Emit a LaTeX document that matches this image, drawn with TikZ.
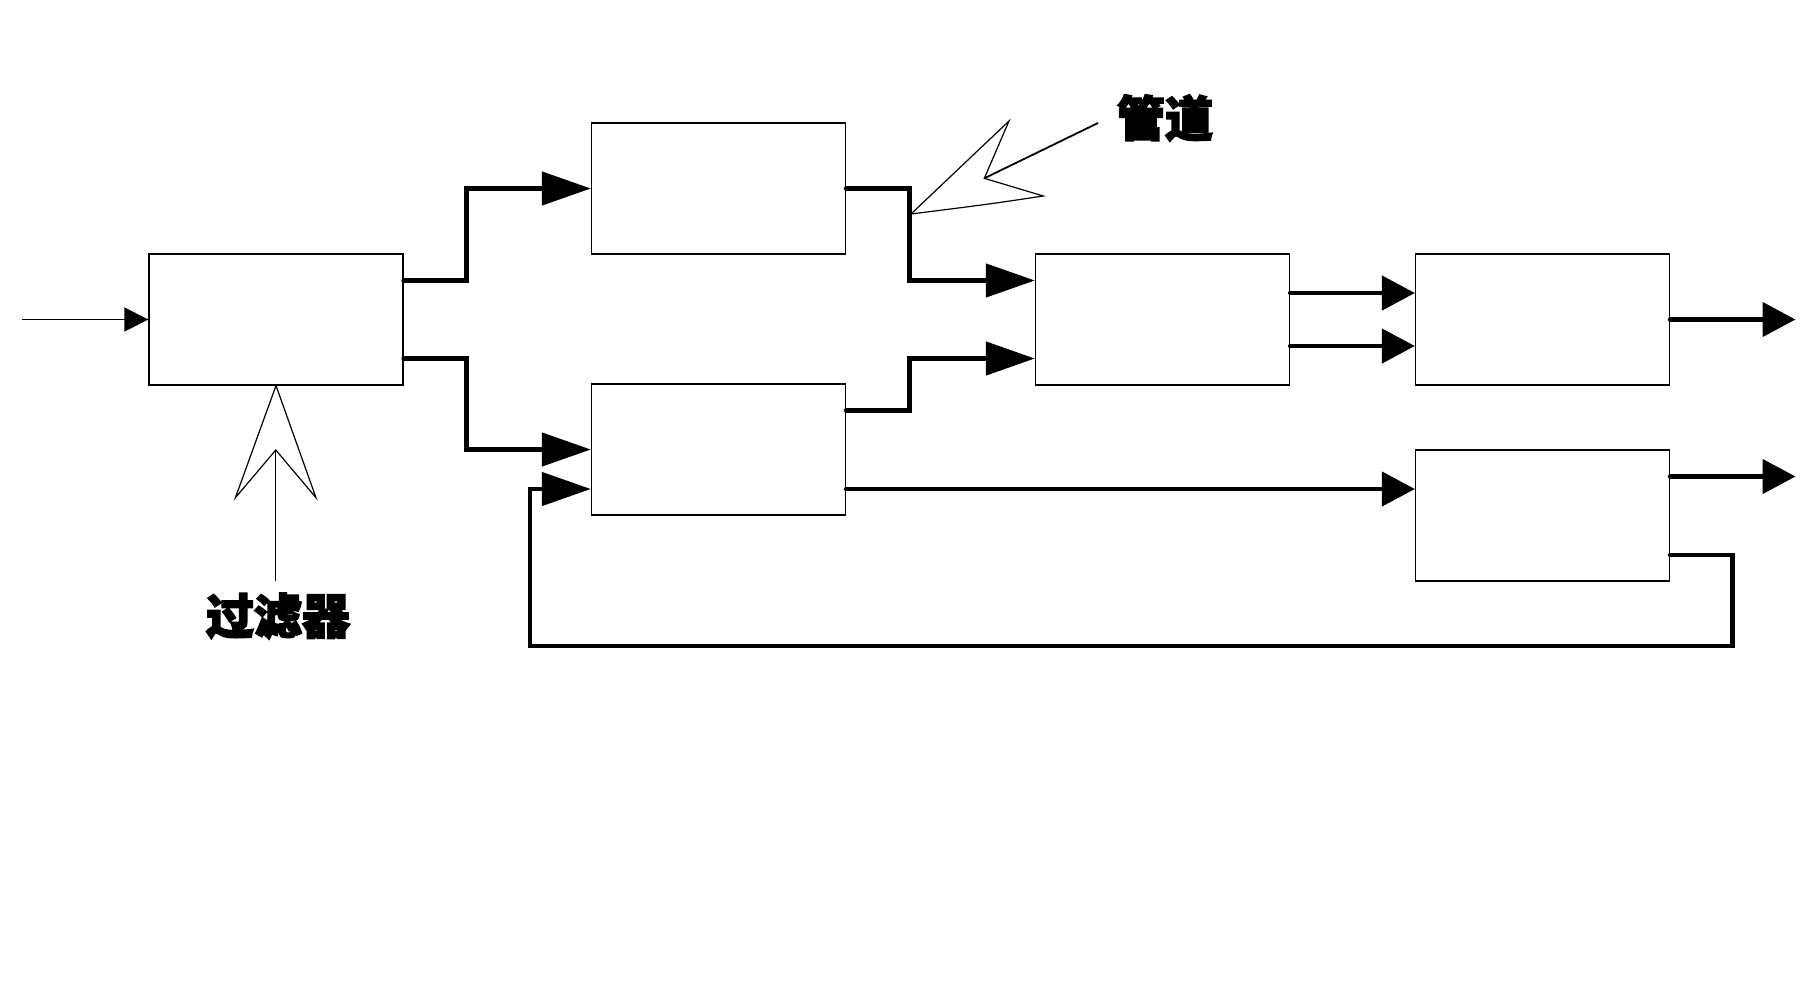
\documentclass[tikz,border=0pt]{standalone}
\usepackage{fontspec}
\newfontfamily\cjk[FakeBold=3.5]{Noto Sans CJK SC}
\usetikzlibrary{arrows.meta}
\begin{document}
\begin{tikzpicture}[x=1pt,y=-1pt,
  box/.style={draw,line width=1.3pt,rectangle,minimum width=254pt,minimum height=131pt,inner sep=0pt},
  conn/.style={line width=4.6pt,line cap=round,line join=miter},
  bigtip/.style={-{Triangle[length=49pt,width=33pt]}},
  smalltip/.style={-{Triangle[length=33pt,width=34pt]}},
  callout/.style={draw,line width=1.2pt,fill=white,line join=miter},
  cjklabel/.style={font=\cjk\bfseries\fontsize{48}{52}\selectfont,inner sep=0pt}]
  \path[use as bounding box] (0,0) rectangle (1801,1005);

  % processing blocks
  \node[box] (A) at (276,319.5) {};
  \node[box] (B) at (718.5,188.5) {};
  \node[box] (C) at (718.5,449.5) {};
  \node[box] (D) at (1162.5,319.5) {};
  \node[box] (E) at (1542.5,319.5) {};
  \node[box] (F) at (1542.5,515.5) {};

  % free ends
  \coordinate (in) at (22,319.5);
  \coordinate (outE) at (1795.5,319.5);
  \coordinate (outF) at (1795.5,476.5);

  % input
  \draw[line width=1.3pt,-{Triangle[length=24pt,width=24pt]}] (in) -- (A.west);

  % pipes
  \draw[conn,bigtip] ([yshift=39pt]A.east) -- ++(63,0) |- (B.west);
  \draw[conn,bigtip] ([yshift=-39pt]A.east) -- ++(63,0) |- (C.west);
  \draw[conn,bigtip] (B.east) -- ++(63.5,0) |- ([yshift=39pt]D.west);
  \draw[conn,bigtip] ([yshift=39pt]C.east) -- ++(63.5,0) |- ([yshift=-39pt]D.west);
  \draw[conn,smalltip] ([yshift=26.5pt]D.east) -- ([yshift=26.5pt]E.west);
  \draw[conn,smalltip] ([yshift=-26.5pt]D.east) -- ([yshift=-26.5pt]E.west);
  \draw[conn,smalltip] ([yshift=-39.5pt]C.east) -- ([yshift=26.5pt]F.west);
  \draw[conn,smalltip] (E.east) -- (outE);
  \draw[conn,smalltip] ([yshift=39pt]F.east) -- (outF);
  \draw[conn,bigtip] ([yshift=-39.5pt]F.east) -- ++(62.5,0) -- ++(0,91)
       -- ++(-1202.7,0) |- ([yshift=-39.5pt]C.west);

  % labels
  \node[cjklabel] (lblFilter) at (278,616) {过滤器};
  \node[cjklabel] (lblPipe) at (1165,118) {管道};

  % filter callout
  \coordinate (fNotch) at (275.8,450);
  \coordinate (fEnd) at (275.8,581);
  \draw[callout] (A.south) -- (235.4,497.7) -- (fNotch) -- (316,497.7) -- cycle;
  \draw[line width=1.2pt] (fNotch) -- (fEnd);

  % pipe callout
  \coordinate (pTip) at (911,214);
  \coordinate (pNotch) at (984.3,178.3);
  \coordinate (pEnd) at (1098,123);
  \draw[callout] (pTip) -- (1009,121) -- (pNotch) -- (1043.3,196)
       .. controls (990,204) .. (pTip) -- cycle;
  \draw[line width=1.8pt] (pNotch) -- (pEnd);
\end{tikzpicture}
\end{document}
